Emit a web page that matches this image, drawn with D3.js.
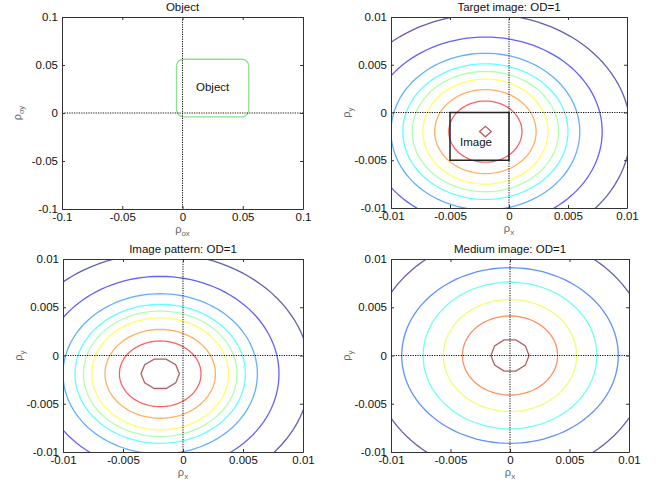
<!doctype html>
<html>
<head>
<style>
  body { margin: 0; background: #fff; overflow: hidden; }
  text { font-family: "Liberation Sans", Arial, sans-serif; }
</style>
</head>
<body>
<script src="https://cdn.jsdelivr.net/npm/d3@7"></script>
<script>
const width = 656, height = 489;

// tick values
const objTicks = [-0.1, -0.05, 0, 0.05, 0.1];
const imgTicks = [-0.01, -0.005, 0, 0.005, 0.01];

// panel 1: object support
const objectBox = { x0: -0.005, x1: 0.055, y0: -0.004, y1: 0.056 };
const objectLabel = { x: 0.025, y: 0.027, text: 'Object' };

// panel 2: target image window
const imageBox = { x0: -0.005, x1: 0, y0: -0.005, y1: 0 };
const imageLabel = { x: -0.0028, y: -0.0031, text: 'Image' };

// contours: [colormap position, radius x, radius y], outer to inner
const targetCentre = [-0.002, -0.002];
const targetContours = [
  [0 / 8, 0.0123, 0.0123],
  [1 / 8, 0.0099, 0.0099],
  [2 / 8, 0.0080, 0.0082],
  [3 / 8, 0.0070, 0.0071],
  [4 / 8, 0.0062, 0.0063],
  [5 / 8, 0.0053, 0.0055],
  [6 / 8, 0.0043, 0.0044],
  [7 / 8, 0.0031, 0.0032],
  [8 / 8, 0.0005, 0.00055]
];

const patternCentre = [-0.0019, -0.0019];
const patternContours = [
  [0 / 8, 0.0125, 0.0125],
  [1 / 8, 0.0099, 0.0101],
  [2 / 8, 0.0081, 0.0083],
  [3 / 8, 0.0071, 0.0072],
  [4 / 8, 0.0064, 0.0065],
  [5 / 8, 0.0057, 0.0058],
  [6 / 8, 0.0046, 0.0046],
  [7 / 8, 0.0034, 0.0034],
  [8 / 8, 0.0016, 0.0016]
];

const mediumCentre = [0, 0];
const mediumContours = [
  [0 / 5, 0.0117, 0.0125],
  [1 / 5, 0.0091, 0.0091],
  [2 / 5, 0.0073, 0.0076],
  [3 / 5, 0.0056, 0.0058],
  [4 / 5, 0.0040, 0.0041],
  [5 / 5, 0.0016, 0.0017]
];

const panels = [
  { title: 'Object', box: [62, 17, 303, 209], ticks: objTicks, xl: 'ox', yl: 'oy' },
  { title: 'Target image: OD=1', box: [391, 17, 627, 208], ticks: imgTicks, xl: 'x', yl: 'y',
    centre: targetCentre, contours: targetContours },
  { title: 'Image pattern: OD=1', box: [63, 259, 303, 452], ticks: imgTicks, xl: 'x', yl: 'y',
    centre: patternCentre, contours: patternContours },
  { title: 'Medium image: OD=1', box: [391, 259, 629, 452], ticks: imgTicks, xl: 'x', yl: 'y',
    centre: mediumCentre, contours: mediumContours }
];

// matlab jet, washed out a little like the scanned figure
function jet(t) {
  const c = v => Math.max(0, Math.min(1, v));
  const r = c(1.5 - Math.abs(4 * t - 3));
  const g = c(1.5 - Math.abs(4 * t - 2));
  const b = c(1.5 - Math.abs(4 * t - 1));
  return d3.interpolateRgb(d3.rgb(r * 255, g * 255, b * 255), '#fff')(0.38);
}

const fmt = d => String(d);
const fontSize = 11.5;

const svg = d3.select('body')
  .append('svg')
  .attr('width', width)
  .attr('height', height);

panels.forEach((p, i) => {
  const [L, T, R, B] = p.box;
  const x = d3.scaleLinear().domain([p.ticks[0], p.ticks[4]]).range([L, R]);
  const y = d3.scaleLinear().domain([p.ticks[0], p.ticks[4]]).range([B, T]);
  const g = svg.append('g');

  svg.append('clipPath').attr('id', 'clip' + i)
    .append('rect').attr('x', L).attr('y', T).attr('width', R - L).attr('height', B - T);

  const plot = g.append('g').attr('clip-path', `url(#clip${i})`);

  if (p.contours) {
    const line = d3.line().x(d => x(d[0])).y(d => y(d[1])).curve(d3.curveLinearClosed);
    plot.selectAll('path.contour')
      .data(p.contours)
      .join('path')
      .attr('class', 'contour')
      .attr('fill', 'none')
      .attr('stroke', d => jet(d[0]))
      .attr('stroke-width', 1.3)
      .attr('d', d => {
        const n = d[1] < 0.001 ? 4 : d[1] < 0.002 ? 10 : 120;
        const pts = d3.range(n).map(k => {
          const a = k / n * 2 * Math.PI;
          return [p.centre[0] + d[1] * Math.cos(a), p.centre[1] + d[2] * Math.sin(a)];
        });
        return line(pts);
      });
  }

  if (i === 0) {
    plot.append('rect')
      .attr('x', x(objectBox.x0)).attr('y', y(objectBox.y1))
      .attr('width', x(objectBox.x1) - x(objectBox.x0))
      .attr('height', y(objectBox.y0) - y(objectBox.y1))
      .attr('rx', 7)
      .attr('fill', 'none').attr('stroke', '#8ee08e').attr('stroke-width', 1.3);
  }

  // dotted zero lines
  plot.append('line').attr('x1', L).attr('x2', R).attr('y1', y(0)).attr('y2', y(0))
    .attr('stroke', '#111').attr('stroke-dasharray', '1.2,1.2');
  plot.append('line').attr('y1', T).attr('y2', B).attr('x1', x(0)).attr('x2', x(0))
    .attr('stroke', '#111').attr('stroke-dasharray', '1.2,1.2');

  if (i === 0) {
    g.append('text').attr('x', x(objectLabel.x)).attr('y', y(objectLabel.y))
      .attr('text-anchor', 'middle').attr('dy', '0.35em')
      .attr('font-size', fontSize).attr('fill', '#111').text(objectLabel.text);
  }
  if (i === 1) {
    plot.append('rect')
      .attr('x', x(imageBox.x0)).attr('y', y(imageBox.y1))
      .attr('width', x(imageBox.x1) - x(imageBox.x0))
      .attr('height', y(imageBox.y0) - y(imageBox.y1))
      .attr('fill', 'none').attr('stroke', '#222').attr('stroke-width', 1.5);
    g.append('text').attr('x', x(imageLabel.x)).attr('y', y(imageLabel.y))
      .attr('text-anchor', 'middle').attr('dy', '0.35em')
      .attr('font-size', fontSize).attr('fill', '#111').text(imageLabel.text);
  }

  // box and ticks
  const axes = [
    [d3.axisBottom(x), `translate(0,${B})`, true],
    [d3.axisTop(x), `translate(0,${T})`, false],
    [d3.axisLeft(y), `translate(${L},0)`, true],
    [d3.axisRight(y), `translate(${R},0)`, false]
  ];
  axes.forEach(([ax, tr, labels]) => {
    g.append('g')
      .attr('transform', tr)
      .attr('color', '#333')
      .call(ax.tickValues(p.ticks).tickSizeInner(-3).tickSizeOuter(0).tickPadding(4)
        .tickFormat(labels ? fmt : ''))
      .call(s => s.selectAll('text')
        .attr('font-size', fontSize).attr('fill', '#111')
        .attr('font-family', '"Liberation Sans", Arial, sans-serif'));
  });

  // title
  g.append('text').attr('x', (L + R) / 2).attr('y', T - 6)
    .attr('text-anchor', 'middle').attr('font-size', fontSize).attr('fill', '#111')
    .text(p.title);

  // axis labels
  const xl = g.append('text').attr('x', x(0)).attr('y', B + 24)
    .attr('text-anchor', 'middle').attr('font-size', 11).attr('fill', '#666');
  xl.append('tspan').text('ρ');
  xl.append('tspan').attr('font-size', 8).attr('dy', 3).text(p.xl);

  const yl = g.append('text')
    .attr('transform', `translate(${L - 41},${y(0)}) rotate(-90)`)
    .attr('text-anchor', 'middle').attr('font-size', 11).attr('fill', '#666');
  yl.append('tspan').text('ρ');
  yl.append('tspan').attr('font-size', 8).attr('dy', 3).text(p.yl);
});
</script>
</body>
</html>
